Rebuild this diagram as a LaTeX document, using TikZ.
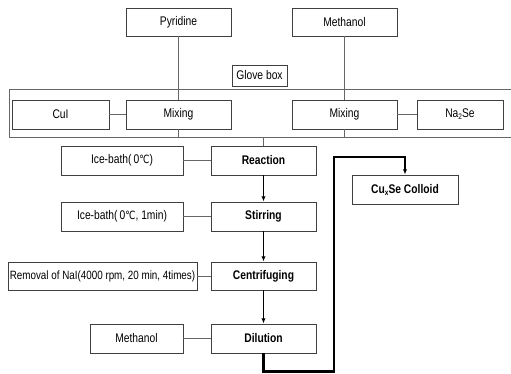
\documentclass[tikz,border=0pt]{standalone}
\usepackage{fontspec}
\setmainfont{Liberation Sans}[FakeStretch=0.82]
\newfontfamily\dejavu{DejaVu Sans}[FakeStretch=0.8]
\usetikzlibrary{arrows.meta}
\begin{document}
\begin{tikzpicture}[x=0.75pt,y=-0.75pt,
  font=\fontsize{9.4pt}{10pt}\selectfont,
  bx/.style n args={2}{draw=black!75, line width=0.6pt, fill=white, inner sep=0pt,
     minimum width=#1*0.75pt, minimum height=#2*0.75pt},
  proc/.style={bx={105}{29}, font=\fontsize{9.4pt}{10pt}\selectfont\bfseries},
  conn/.style={draw=black!60, line width=0.6pt},
  arr/.style={draw=black, line width=1.1pt, -{Latex[length=4pt,width=3.2pt]}},
  thickarr/.style={draw=black, line width=1.6pt, -{Latex[length=4pt,width=3.2pt]}}]
\useasboundingbox (0,0) rectangle (511,374);
\fill[white] (0,0) rectangle (511,374);
% glove box container (open to the right)
\draw[draw=black!60, line width=0.6pt] (511,89) -- (9,89) -- (9,137) -- (511,137);
% nodes
\node[bx={105}{28}] (pyr) at (178.5,22) {Pyridine};
\node[bx={105}{28}] (meth) at (344.5,22) {Methanol};
\node[bx={55}{21}] (glove) at (259.5,75.5) {Glove box};
\node[bx={97}{29}] (cui) at (60.5,114.5) {CuI};
\node[bx={105}{29}] (mixl) at (178.5,114.5) {Mixing};
\node[bx={105}{29}] (mixr) at (344.5,114.5) {Mixing};
\node[bx={86}{29}] (nase) at (460,114.5) {Na\raisebox{-0.3ex}{\fontsize{6pt}{6pt}\selectfont 2}Se};
\node[proc] (react) at (263.5,160.5) {Reaction};
\node[bx={122}{29}] (ice1) at (122,160.5) {Ice-bath(\,0{\dejavu\fontsize{8.5pt}{9pt}\selectfont ℃})};
\node[proc] (stir) at (263.5,216.5) {Stirring};
\node[bx={122}{29}] (ice2) at (122,216.5) {Ice-bath(\,0{\dejavu\fontsize{8.5pt}{9pt}\selectfont ℃}, 1min)};
\node[proc, minimum height=28*0.75pt] (cent) at (263.5,276) {Centrifuging};
\node[bx={189}{28}, font=\fontsize{9pt}{10pt}\selectfont] (remo) at (102.5,276) {Removal of NaI(4000 rpm, 20 min, 4times)};
\node[proc] (dil) at (263.5,338.5) {Dilution};
\node[bx={93}{29}] (meth2) at (136.5,338.5) {Methanol};
\node[proc, minimum width=106*0.75pt] (coll) at (405,189.5) {Cu\raisebox{-0.3ex}{\fontsize{6pt}{6pt}\selectfont x}Se Colloid};
% connectors
\coordinate (j) at (263.5,137.5);
\coordinate (c1) at (334,371.5);
\coordinate (c2) at (334,157);
\draw[conn] (pyr) -- (mixl);
\draw[conn] (meth) -- (mixr);
\draw[conn] (cui) -- (mixl);
\draw[conn] (mixr) -- (nase);
\draw[conn] (mixl.south) |- (j) -| (mixr.south);
\draw[conn] (j) -- (react);
\draw[conn] (ice1) -- (react);
\draw[conn] (ice2) -- (stir);
\draw[conn] (remo) -- (cent);
\draw[conn] (meth2) -- (dil);
\draw[arr] (react) -- (stir);
\draw[arr] (stir) -- (cent);
\draw[arr] (cent) -- (dil);
\draw[thickarr] (dil.south) |- (c1) -- (c2) -| (coll.north);
\end{tikzpicture}
\end{document}
